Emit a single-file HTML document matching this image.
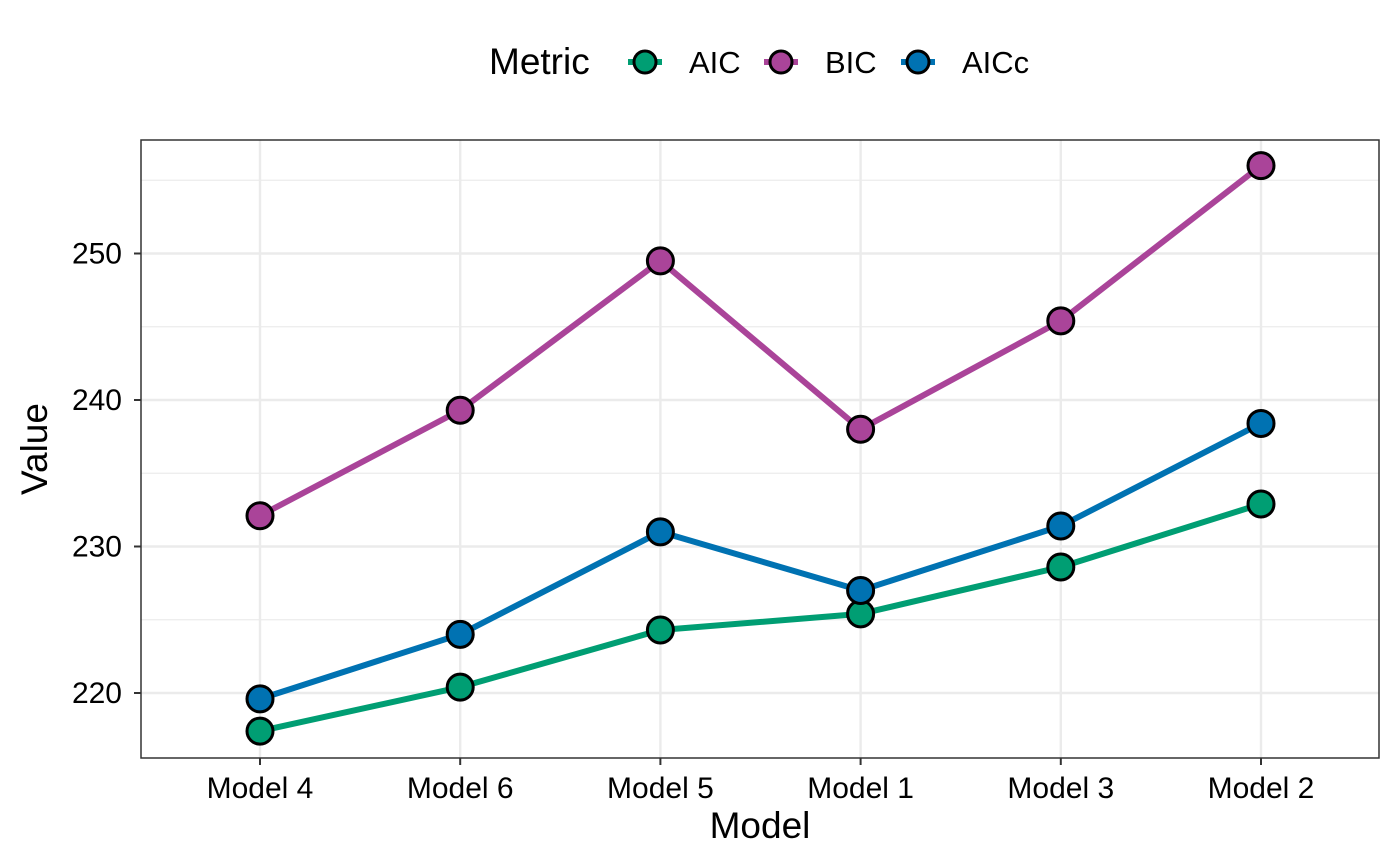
<!DOCTYPE html>
<html><head><meta charset="utf-8"><style>
html,body{margin:0;padding:0;background:#fff;}
svg{display:block;font-family:"Liberation Sans",sans-serif;}
</style></head><body>
<svg id="chart" width="1400" height="866" viewBox="0 0 1400 866" xmlns="http://www.w3.org/2000/svg"></svg>
<script>
const categories = ["Model 4","Model 6","Model 5","Model 1","Model 3","Model 2"];
const aicValues = [217.4,220.4,224.3,225.4,228.6,232.9];
const bicValues = [232.1,239.3,249.5,238.0,245.4,256.0];
const aiccValues = [219.6,224.0,231.0,227.0,231.4,238.4];
const yTicks = [220,230,240,250];
const yMinor = [215,225,235,245,255];
const seriesNames = ["AIC","BIC","AICc"];
const seriesColors = ["#009E73","#AA4499","#0072B2"];

const NS="http://www.w3.org/2000/svg";
const svg=document.getElementById('chart');
const L=141,R=1379,T=140,B=758;
function x(i){return 260+i*200.2;}
function y(v){return 693-(v-220)*14.65;}
function mk(tag,attrs,parent){const e=document.createElementNS(NS,tag);for(const k in attrs)e.setAttribute(k,attrs[k]);(parent||svg).appendChild(e);return e;}

const panel=mk('rect',{x:L,y:T,width:R-L,height:B-T,fill:'#fff'});


yMinor.forEach(v=>{const yy=y(v);if(yy>T&&yy<B){const g=mk('line',{x1:L,x2:R,y1:yy,y2:yy,stroke:'#ebebeb','stroke-width':1.2});

}});
yTicks.forEach(v=>{const g=mk('line',{x1:L,x2:R,y1:y(v),y2:y(v),stroke:'#ebebeb','stroke-width':2.4});


const t=mk('text',{x:122,y:y(v)+10,'text-anchor':'end','font-size':30,fill:'#000'});t.textContent=v;


mk('line',{x1:134,x2:141,y1:y(v),y2:y(v),stroke:'#333','stroke-width':2});});
categories.forEach((c,i)=>{const g=mk('line',{x1:x(i),x2:x(i),y1:T,y2:B,stroke:'#ebebeb','stroke-width':2.4});


mk('line',{x1:x(i),x2:x(i),y1:B,y2:B+7,stroke:'#333','stroke-width':2});
const t=mk('text',{x:x(i),y:798,'text-anchor':'middle','font-size':30,fill:'#000'});t.textContent=c;

});
const border=mk('rect',{x:L,y:T,width:R-L,height:B-T,fill:'none',stroke:'#333','stroke-width':1.5});



const allSeries=[aicValues,bicValues,aiccValues];
allSeries.forEach((vals,s)=>{
  const p=mk('polyline',{points:vals.map((v,i)=>x(i)+','+y(v)).join(' '),fill:'none',stroke:seriesColors[s],'stroke-width':6,'stroke-linejoin':'round'});
  
  
});
allSeries.forEach((vals,s)=>{
  vals.forEach((v,i)=>{
    const c=mk('circle',{cx:x(i),cy:y(v),r:13,fill:seriesColors[s],stroke:'#000','stroke-width':3});
    
    
  });
});

const xt=mk('text',{x:760,y:838,'text-anchor':'middle','font-size':37,fill:'#000'});xt.textContent='Model';


const yt=mk('text',{x:0,y:0,'text-anchor':'middle','font-size':37,fill:'#000',transform:'translate(47,449) rotate(-90)'});yt.textContent='Value';



const lt=mk('text',{x:489,y:74,'font-size':37,fill:'#000'});lt.textContent='Metric';


const keyX=[645,781,918];
seriesNames.forEach((n,s)=>{
  const g=mk('g',{});
  
  
  mk('line',{x1:keyX[s]-17,x2:keyX[s]+17,y1:62,y2:62,stroke:seriesColors[s],'stroke-width':6},g);
  mk('circle',{cx:keyX[s],cy:62,r:11,fill:seriesColors[s],stroke:'#000','stroke-width':3},g);
  const t=mk('text',{x:keyX[s]+44,y:73,'font-size':31,fill:'#000'},g);t.textContent=n;
});
</script>
</body></html>
